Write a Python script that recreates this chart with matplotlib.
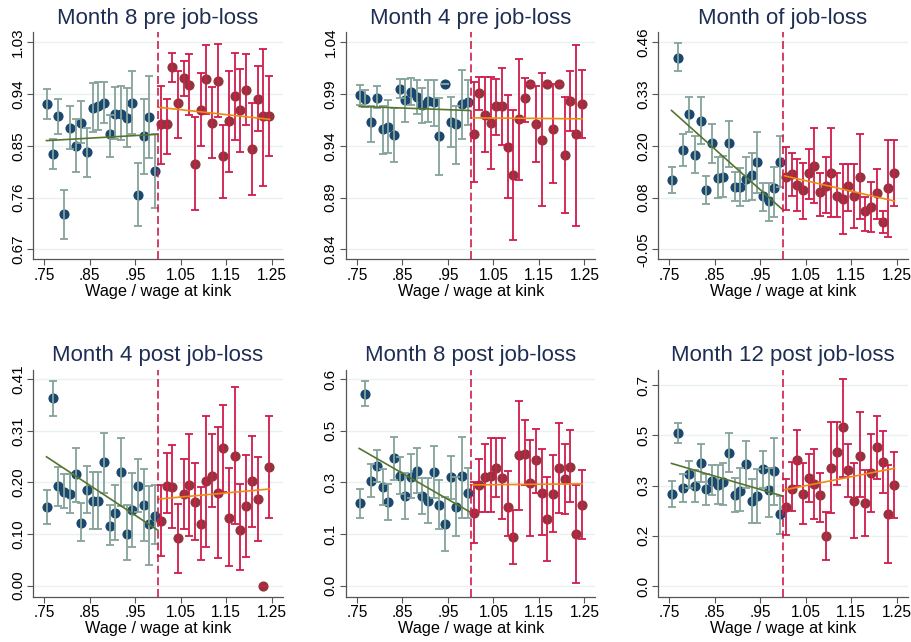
import matplotlib
matplotlib.use("Agg")
import matplotlib.pyplot as plt
import numpy as np

plt.rcParams['font.family'] = ['Liberation Sans', 'DejaVu Sans']

# ---------------- data ----------------
left_x = [0.75625, 0.76875, 0.78125, 0.79375, 0.80625, 0.81875, 0.83125, 0.84375, 0.85625, 0.86875,
          0.88125, 0.89375, 0.90625, 0.91875, 0.93125, 0.94375, 0.95625, 0.96875, 0.98125, 0.99375]
right_x = [1.00625, 1.01875, 1.03125, 1.04375, 1.05625, 1.06875, 1.08125, 1.09375, 1.10625, 1.11875,
           1.13125, 1.14375, 1.15625, 1.16875, 1.18125, 1.19375, 1.20625, 1.21875, 1.23125, 1.24375]
x_ticks = [0.75, 0.85, 0.95, 1.05, 1.15, 1.25]
x_ticklabels = [".75", ".85", ".95", "1.05", "1.15", "1.25"]
kink = 1.0
fit_left_x = [0.755, 1.0]
fit_right_x = [1.0, 1.245]

titles = ["Month 8 pre job-loss", "Month 4 pre job-loss", "Month of job-loss",
          "Month 4 post job-loss", "Month 8 post job-loss", "Month 12 post job-loss"]
xlabel = "Wage / wage at kink"

# y tick range (bottom, top) and labels per panel
y_range = [(0.67, 1.03), (0.84, 1.04), (-0.05, 0.46), (0.00, 0.41), (0.0, 0.6), (0.0, 0.7)]
y_ticklabels = [["0.67", "0.76", "0.85", "0.94", "1.03"],
                ["0.84", "0.89", "0.94", "0.99", "1.04"],
                ["-0.05", "0.08", "0.20", "0.33", "0.46"],
                ["0.00", "0.10", "0.20", "0.31", "0.41"],
                ["0.0", "0.1", "0.3", "0.5", "0.6"],
                ["0.0", "0.2", "0.3", "0.5", "0.7"]]
y_pad = [(0.19, 0.19), (0.19, 0.19), (0.19, 0.19), (0.21, 0.19), (0.21, 0.19), (0.21, 0.31)]

# Panel 1: Month 8 pre
p1_left_y = [0.922, 0.836, 0.901, 0.731, 0.881, 0.850, 0.890, 0.839, 0.916, 0.919,
             0.925, 0.870, 0.906, 0.906, 0.898, 0.925, 0.765, 0.867, 0.900, 0.806]
p1_left_hi = [0.948, 0.862, 0.931, 0.774, 0.919, 0.897, 0.927, 0.881, 0.959, 0.960,
              0.961, 0.903, 0.952, 0.954, 0.950, 0.980, 0.820, 0.932, 0.971, 0.871]
p1_left_lo = [0.896, 0.809, 0.871, 0.688, 0.844, 0.805, 0.854, 0.796, 0.874, 0.877,
              0.890, 0.830, 0.861, 0.860, 0.848, 0.871, 0.710, 0.801, 0.828, 0.742]
p1_right_y = [0.887, 0.887, 0.986, 0.925, 0.967, 0.956, 0.818, 0.913, 0.966, 0.890,
              0.963, 0.832, 0.893, 0.936, 0.912, 0.947, 0.845, 0.931, 0.902, 0.902]
p1_right_hi = [0.954, 0.931, 1.011, 0.980, 0.998, 1.009, 0.900, 0.976, 1.025, 0.952,
               1.027, 0.886, 0.980, 1.012, 0.983, 1.010, 0.924, 0.988, 1.018, 0.972]
p1_right_lo = [0.819, 0.835, 0.961, 0.864, 0.937, 0.903, 0.738, 0.850, 0.906, 0.829,
               0.900, 0.760, 0.805, 0.860, 0.839, 0.886, 0.765, 0.876, 0.781, 0.832]
p1_fit_left = [0.859, 0.870]
p1_fit_right = [0.917, 0.896]

# Panel 2: Month 4 pre
p2_left_y = [0.989, 0.985, 0.963, 0.986, 0.956, 0.958, 0.950, 0.995, 0.984, 0.992,
             0.987, 0.979, 0.983, 0.982, 0.949, 1.000, 0.963, 0.961, 0.980, 0.982]
p2_left_hi = [0.999, 0.994, 0.978, 0.998, 0.978, 0.984, 0.976, 1.004, 1.004, 1.005,
              1.003, 0.996, 1.003, 1.003, 0.986, 1.000, 0.987, 0.978, 1.013, 1.003]
p2_left_lo = [0.979, 0.977, 0.944, 0.976, 0.932, 0.933, 0.924, 0.986, 0.963, 0.979,
              0.971, 0.962, 0.963, 0.959, 0.912, 1.000, 0.939, 0.922, 0.947, 0.960]
p2_right_y = [0.951, 0.991, 0.970, 0.962, 0.978, 0.978, 0.939, 0.912, 0.966, 0.986,
              1.000, 0.961, 0.946, 1.000, 0.956, 1.000, 0.931, 0.983, 0.951, 0.980]
p2_right_hi = [1.002, 1.006, 1.006, 1.006, 1.004, 1.015, 0.989, 0.975, 1.024, 1.005,
               1.000, 0.998, 1.010, 1.000, 1.000, 1.000, 0.987, 1.012, 1.037, 1.013]
p2_right_lo = [0.905, 0.975, 0.934, 0.918, 0.950, 0.941, 0.890, 0.849, 0.907, 0.963,
               1.000, 0.924, 0.882, 1.000, 0.904, 1.000, 0.875, 0.954, 0.863, 0.948]
p2_fit_left = [0.978, 0.974]
p2_fit_right = [0.967, 0.966]

# Panel 3: Month of job-loss
p3_left_y = [0.121, 0.422, 0.195, 0.283, 0.182, 0.267, 0.096, 0.211, 0.127, 0.129,
             0.211, 0.104, 0.104, 0.123, 0.133, 0.164, 0.081, 0.068, 0.100, 0.166]
p3_left_hi = [0.154, 0.458, 0.234, 0.326, 0.228, 0.325, 0.131, 0.259, 0.178, 0.180,
              0.267, 0.141, 0.150, 0.178, 0.188, 0.240, 0.114, 0.114, 0.154, 0.228]
p3_left_lo = [0.090, 0.388, 0.156, 0.240, 0.137, 0.210, 0.062, 0.162, 0.076, 0.078,
              0.154, 0.069, 0.057, 0.070, 0.072, 0.090, 0.045, 0.020, 0.029, 0.104]
p3_right_y = [0.129, 0.135, 0.109, 0.096, 0.137, 0.156, 0.092, 0.107, 0.139, 0.082,
              0.074, 0.106, 0.082, 0.129, 0.045, 0.054, 0.088, 0.018, 0.100, 0.137]
p3_right_hi = [0.201, 0.188, 0.172, 0.162, 0.197, 0.250, 0.137, 0.178, 0.248, 0.139,
               0.160, 0.160, 0.160, 0.233, 0.078, 0.115, 0.147, 0.045, 0.219, 0.219]
p3_right_lo = [0.047, 0.082, 0.045, 0.026, 0.073, 0.065, 0.032, 0.039, 0.029, 0.029,
               -0.013, 0.045, 0.004, 0.025, -0.004, -0.008, 0.025, -0.010, -0.019, 0.057]
p3_fit_left = [0.292, 0.047]
p3_fit_right = [0.132, 0.069]

# Panel 4: Month 4 post
p4_left_y = [0.157, 0.372, 0.198, 0.187, 0.183, 0.221, 0.125, 0.191, 0.169, 0.169,
             0.245, 0.119, 0.145, 0.226, 0.102, 0.150, 0.198, 0.160, 0.122, 0.139]
p4_left_hi = [0.191, 0.406, 0.236, 0.222, 0.222, 0.274, 0.165, 0.238, 0.226, 0.226,
              0.304, 0.160, 0.200, 0.294, 0.160, 0.223, 0.251, 0.231, 0.198, 0.200]
p4_left_lo = [0.122, 0.337, 0.158, 0.154, 0.145, 0.166, 0.088, 0.145, 0.112, 0.112,
              0.185, 0.081, 0.091, 0.159, 0.051, 0.077, 0.147, 0.089, 0.042, 0.083]
p4_right_y = [0.129, 0.198, 0.197, 0.094, 0.182, 0.200, 0.167, 0.123, 0.207, 0.218,
              0.185, 0.273, 0.135, 0.258, 0.111, 0.158, 0.207, 0.172, 0.000, 0.235]
p4_right_hi = [0.200, 0.263, 0.279, 0.162, 0.251, 0.302, 0.244, 0.197, 0.337, 0.301,
               0.316, 0.358, 0.233, 0.395, 0.201, 0.259, 0.297, 0.256, 0.000, 0.337]
p4_right_lo = [0.058, 0.144, 0.114, 0.026, 0.112, 0.099, 0.090, 0.050, 0.077, 0.157,
               0.055, 0.187, 0.040, 0.123, 0.032, 0.056, 0.117, 0.089, 0.000, 0.135]
p4_fit_left = [0.256, 0.110]
p4_fit_right = [0.172, 0.192]

# Panel 5: Month 8 post
p5_left_y = [0.240, 0.558, 0.305, 0.348, 0.286, 0.242, 0.370, 0.320, 0.261, 0.317,
             0.334, 0.262, 0.247, 0.331, 0.235, 0.179, 0.315, 0.228, 0.320, 0.269]
p5_left_hi = [0.280, 0.594, 0.353, 0.394, 0.338, 0.296, 0.431, 0.375, 0.329, 0.382,
              0.399, 0.314, 0.314, 0.407, 0.307, 0.259, 0.377, 0.315, 0.431, 0.341]
p5_left_lo = [0.198, 0.522, 0.259, 0.302, 0.235, 0.191, 0.307, 0.266, 0.194, 0.254,
              0.269, 0.209, 0.182, 0.254, 0.164, 0.101, 0.252, 0.145, 0.198, 0.196]
p5_right_y = [0.211, 0.293, 0.317, 0.320, 0.343, 0.312, 0.228, 0.141, 0.380, 0.384,
              0.298, 0.365, 0.270, 0.193, 0.267, 0.343, 0.310, 0.344, 0.150, 0.235]
p5_right_hi = [0.302, 0.367, 0.413, 0.430, 0.428, 0.428, 0.333, 0.220, 0.536, 0.481,
               0.423, 0.455, 0.396, 0.317, 0.380, 0.474, 0.413, 0.452, 0.293, 0.336]
p5_right_lo = [0.124, 0.213, 0.215, 0.213, 0.259, 0.194, 0.143, 0.063, 0.220, 0.293,
               0.143, 0.270, 0.146, 0.072, 0.156, 0.211, 0.209, 0.242, 0.008, 0.135]
p5_fit_left = [0.399, 0.213]
p5_fit_right = [0.293, 0.296]

# Panel 6: Month 12 post
p6_left_y = [0.320, 0.534, 0.343, 0.389, 0.349, 0.430, 0.337, 0.367, 0.352, 0.361,
             0.462, 0.317, 0.332, 0.425, 0.296, 0.315, 0.406, 0.334, 0.401, 0.251]
p6_left_hi = [0.366, 0.569, 0.389, 0.435, 0.404, 0.493, 0.390, 0.421, 0.421, 0.430,
              0.532, 0.375, 0.410, 0.505, 0.372, 0.406, 0.471, 0.410, 0.517, 0.315]
p6_left_lo = [0.274, 0.497, 0.294, 0.343, 0.294, 0.363, 0.282, 0.317, 0.284, 0.282,
              0.398, 0.259, 0.261, 0.340, 0.221, 0.221, 0.343, 0.241, 0.282, 0.181]
p6_right_y = [0.276, 0.338, 0.439, 0.320, 0.375, 0.355, 0.317, 0.175, 0.412, 0.466,
              0.555, 0.404, 0.296, 0.453, 0.290, 0.395, 0.483, 0.431, 0.250, 0.352]
p6_right_hi = [0.372, 0.433, 0.543, 0.430, 0.460, 0.477, 0.395, 0.259, 0.572, 0.572,
               0.721, 0.495, 0.427, 0.607, 0.404, 0.529, 0.592, 0.541, 0.421, 0.466]
p6_right_lo = [0.178, 0.262, 0.349, 0.215, 0.291, 0.233, 0.224, 0.091, 0.255, 0.352,
               0.381, 0.309, 0.168, 0.311, 0.174, 0.259, 0.372, 0.323, 0.079, 0.238]
p6_fit_left = [0.427, 0.313]
p6_fit_right = [0.334, 0.410]

panels = [
    (p1_left_y, p1_left_lo, p1_left_hi, p1_right_y, p1_right_lo, p1_right_hi, p1_fit_left, p1_fit_right),
    (p2_left_y, p2_left_lo, p2_left_hi, p2_right_y, p2_right_lo, p2_right_hi, p2_fit_left, p2_fit_right),
    (p3_left_y, p3_left_lo, p3_left_hi, p3_right_y, p3_right_lo, p3_right_hi, p3_fit_left, p3_fit_right),
    (p4_left_y, p4_left_lo, p4_left_hi, p4_right_y, p4_right_lo, p4_right_hi, p4_fit_left, p4_fit_right),
    (p5_left_y, p5_left_lo, p5_left_hi, p5_right_y, p5_right_lo, p5_right_hi, p5_fit_left, p5_fit_right),
    (p6_left_y, p6_left_lo, p6_left_hi, p6_right_y, p6_right_lo, p6_right_hi, p6_fit_left, p6_fit_right),
]

# ---------------- style ----------------
c_blue = "#1a476f"
c_blue_bar = "#85a39a"
c_red = "#90353b"
c_red_bar = "#d01c4b"
c_green = "#55752f"
c_orange = "#ee8a10"
c_title = "#1e2d53"
c_grid = "#eaf1f3"

W, H = 912, 642
fig = plt.figure(figsize=(W / 100, H / 100), dpi=100)

col_left = [33.3, 346.0, 658.3]
col_w = 249.4
row_top = [32.3, 369.5]
row_h = 227.0

for k, (ly, llo, lhi, ry, rlo, rhi, fl, fr) in enumerate(panels):
    r, c = divmod(k, 3)
    ax = fig.add_axes([col_left[c] / W, 1 - (row_top[r] + row_h) / H, col_w / W, row_h / H])
    lo, hi = y_range[k]
    step = (hi - lo) / 4
    yt = np.linspace(lo, hi, 5)
    ax.set_ylim(lo - y_pad[k][0] * step, hi + y_pad[k][1] * step)
    ax.set_xlim(0.726, 1.274)
    ax.set_yticks(yt)
    ax.set_yticklabels(y_ticklabels[k], rotation=90, va='center', fontsize=11)
    ax.set_xticks(x_ticks)
    ax.set_xticklabels(x_ticklabels, fontsize=11.2)
    for t in yt:
        ax.axhline(t, color=c_grid, lw=1.0, zorder=0)
    for s in ['top', 'right']:
        ax.spines[s].set_visible(False)
    for s in ['left', 'bottom']:
        ax.spines[s].set_color("#555555")
        ax.spines[s].set_linewidth(0.9)
    ax.tick_params(axis='both', length=4, width=0.8, color="#555555", pad=2)

    lyn = np.array(ly); rn = np.array(ry)
    ax.plot(left_x, ly, 'o', color=c_blue, ms=6.3, mec=c_blue, zorder=2)
    ax.plot(right_x, ry, 'o', color=c_red, ms=6.3, mec=c_red, zorder=2)
    ax.errorbar(left_x, lyn, yerr=[lyn - np.array(llo), np.array(lhi) - lyn], fmt='none',
                ecolor=c_blue_bar, elinewidth=1.3, capsize=3.0, capthick=1.3, zorder=3)
    ax.errorbar(right_x, rn, yerr=[rn - np.array(rlo), np.array(rhi) - rn], fmt='none',
                ecolor=c_red_bar, elinewidth=1.3, capsize=3.0, capthick=1.3, zorder=3)
    ax.plot(fit_left_x, fl, color=c_green, lw=1.2, zorder=4)
    ax.plot(fit_right_x, fr, color=c_orange, lw=1.2, zorder=4)
    ax.axvline(kink, color=c_red_bar, lw=1.2, ls=(0, (4.8, 2.2)), zorder=5)

    ax.set_title(titles[k], fontsize=16, color=c_title, pad=6)
    ax.set_xlabel(xlabel, fontsize=11.7, labelpad=1)

fig.savefig("out.png", dpi=100)
